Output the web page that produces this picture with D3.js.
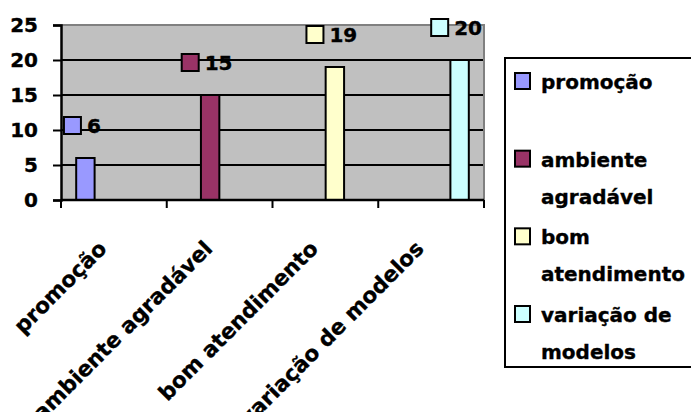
<!DOCTYPE html>
<html>
<head>
<meta charset="utf-8">
<script src="https://cdn.jsdelivr.net/npm/d3@7"></script>
<style>
  html, body { margin: 0; padding: 0; background: #ffffff; }
  svg { display: block; }
  text { font-family: "DejaVu Sans", sans-serif; font-weight: 700; fill: #000;
         stroke: #000; stroke-width: 0.35px; }
</style>
</head>
<body>
<svg id="chart" width="691" height="412"></svg>
<script>
// Categories and their values
const categories = ["promoção", "ambiente agradável", "bom atendimento", "variação de modelos"];
const values = [6, 15, 19, 20];
const colors = ["#9999ff", "#993366", "#ffffcc", "#ccffff"];
const yTicks = [0, 5, 10, 15, 20, 25];
// Legend entries wrapped onto lines
const legendLines = [["promoção"], ["ambiente", "agradável"], ["bom", "atendimento"], ["variação de", "modelos"]];

const svg = d3.select("#chart");
const plot = { left: 61, right: 484, top: 25, bottom: 200 };
const FONT = "'DejaVu Sans', sans-serif";

const x = d3.scaleBand().domain(categories).range([plot.left, plot.right]).padding(0);
// each series sits in its own slot inside every category group
const xs = d3.scaleBand().domain(d3.range(categories.length))
  .range([0, x.bandwidth()]).paddingInner(0.03).paddingOuter(0.8);
const y = d3.scaleLinear().domain([0, 25]).range([plot.bottom, plot.top]);

// plot background
svg.append("rect")
  .attr("x", plot.left).attr("y", plot.top)
  .attr("width", plot.right - plot.left).attr("height", plot.bottom - plot.top)
  .attr("fill", "#c0c0c0");

// horizontal gridlines
svg.append("g").selectAll("line")
  .data(yTicks.filter(t => t > 0 && t < 25))
  .join("line")
  .attr("x1", plot.left).attr("x2", plot.right)
  .attr("y1", d => y(d)).attr("y2", d => y(d))
  .attr("stroke", "#000").attr("stroke-width", 2);

// plot frame (top and right edges)
svg.append("path")
  .attr("d", `M${plot.left},${plot.top}H${plot.right}V${plot.bottom}`)
  .attr("fill", "none").attr("stroke", "#808080").attr("stroke-width", 2);

// bars
svg.append("g").selectAll("rect")
  .data(values)
  .join("rect")
  .attr("x", (d, i) => x(categories[i]) + xs(i))
  .attr("y", d => y(d))
  .attr("width", xs.bandwidth())
  .attr("height", d => y(0) - y(d))
  .attr("fill", (d, i) => colors[i])
  .attr("stroke", "#000").attr("stroke-width", 2);

// y axis
const yAxis = svg.append("g")
  .attr("transform", `translate(${plot.left},0)`)
  .call(d3.axisLeft(y).tickValues(yTicks).tickSize(8).tickPadding(15));
yAxis.select(".domain").attr("stroke", "#000").attr("stroke-width", 2.5);
yAxis.selectAll(".tick line").attr("stroke", "#000").attr("stroke-width", 2);
yAxis.selectAll(".tick text")
  .attr("font-size", 20).attr("font-family", FONT).attr("font-weight", 700);

// x axis with boundary ticks between categories
const xAxis = svg.append("g")
  .attr("transform", `translate(0,${plot.bottom})`);
xAxis.append("line")
  .attr("x1", plot.left).attr("x2", plot.right)
  .attr("stroke", "#000").attr("stroke-width", 2.5);
const bounds = categories.map(c => x(c)).concat([plot.right]);
xAxis.selectAll(".tk").data(bounds).join("line")
  .attr("class", "tk")
  .attr("x1", d => d).attr("x2", d => d)
  .attr("y1", 0).attr("y2", 8)
  .attr("stroke", "#000").attr("stroke-width", 2);

// rotated category labels
svg.append("g").selectAll("text")
  .data(categories)
  .join("text")
  .attr("transform", d => `translate(${x(d) + x.bandwidth() / 2 - 6},250) rotate(-45)`)
  .attr("text-anchor", "end")
  .attr("font-size", 21.5)
  .text(d => d);

// data labels: legend key + value, above each bar
const labelG = svg.append("g").selectAll("g")
  .data(values)
  .join("g");
labelG.each(function (d, i) {
  const g = d3.select(this);
  const t = g.append("text").attr("font-size", 20).text(d);
  const w = t.node().getComputedTextLength();
  const cx = x(categories[i]) + xs(i) + xs.bandwidth() / 2;
  const cy = y(d) - 32;
  const left = cx - (23 + w) / 2 - 3;
  g.insert("rect", "text")
    .attr("x", left).attr("y", cy - 9)
    .attr("width", 17).attr("height", 17)
    .attr("fill", colors[i]).attr("stroke", "#000").attr("stroke-width", 2);
  t.attr("x", left + 23).attr("y", cy + 7);
});

// legend
const legend = svg.append("g");
legend.append("rect")
  .attr("x", 505).attr("y", 58)
  .attr("width", 200).attr("height", 309)
  .attr("fill", "#fff").attr("stroke", "#000").attr("stroke-width", 2);
const ly = d3.scalePoint().domain(d3.range(categories.length)).range([81, 314]);
legendLines.forEach((lines, i) => {
  legend.append("rect")
    .attr("x", 515).attr("y", ly(i) - 8)
    .attr("width", 15).attr("height", 16)
    .attr("fill", colors[i]).attr("stroke", "#000").attr("stroke-width", 2);
  lines.forEach((line, j) => {
    legend.append("text")
      .attr("x", 541).attr("y", ly(i) + 8 + j * 37)
      .attr("font-size", 20)
      .text(line);
  });
});
</script>
</body>
</html>
